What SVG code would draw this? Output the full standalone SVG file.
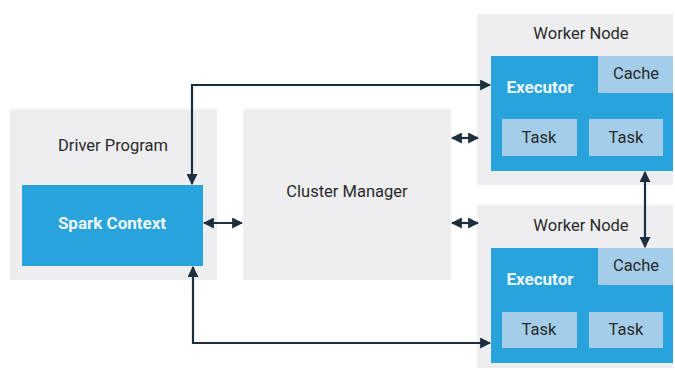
<svg xmlns="http://www.w3.org/2000/svg" width="675" height="370" viewBox="0 0 675 370">
<defs>
<marker id="ah" viewBox="0 0 10 10" refX="9" refY="5" markerWidth="11" markerHeight="11" markerUnits="userSpaceOnUse" orient="auto-start-reverse">
<path d="M0,0 L10,5 L0,10 z" fill="#1d2f3e"/>
</marker>
<style>
.bg{fill:#eeeef0}
.blue{fill:#29a3dc}
.light{fill:#a3cde9}
.t{font-family:Roboto,"Liberation Sans",sans-serif;font-size:16.5px;fill:#2a2a2a;text-anchor:middle}
.w{font-family:Roboto,"Liberation Sans",sans-serif;font-size:17px;font-weight:bold;fill:#eef6fb;text-anchor:middle}
.c{fill:none;stroke:#1d2f3e;stroke-width:2.2}
</style>
</defs>
<rect width="675" height="370" fill="#ffffff"/>
<g id="driver">
<rect class="bg" x="10" y="109" width="207" height="171"/>
<text class="t" x="113" y="151">Driver Program</text>
</g>
<g id="spark-context">
<rect class="blue" x="22" y="185" width="181" height="81"/>
<text class="w" x="112" y="229">Spark Context</text>
</g>
<g id="cluster-manager">
<rect class="bg" x="243" y="109" width="208" height="171"/>
<text class="t" x="347" y="197">Cluster Manager</text>
</g>
<g id="worker1">
<rect class="bg" x="477" y="14" width="196" height="171"/>
<text class="t" x="581" y="39">Worker Node</text>
</g>
<g id="executor1">
<rect class="blue" x="491" y="56" width="182" height="115"/>
<rect class="light" x="598" y="56" width="75" height="37"/>
<text class="w" x="540" y="93">Executor</text>
<text class="t" x="636" y="79">Cache</text>
<rect class="light" x="502" y="119" width="75" height="37"/>
<text class="t" x="539" y="143">Task</text>
<rect class="light" x="589" y="119" width="74" height="37"/>
<text class="t" x="626" y="143">Task</text>
</g>
<g id="worker2">
<rect class="bg" x="477" y="205" width="196" height="163"/>
<text class="t" x="581" y="231">Worker Node</text>
</g>
<g id="executor2">
<rect class="blue" x="491" y="248" width="182" height="115"/>
<rect class="light" x="598" y="248" width="75" height="37"/>
<text class="w" x="540" y="285">Executor</text>
<text class="t" x="636" y="271">Cache</text>
<rect class="light" x="502" y="312" width="75" height="36"/>
<text class="t" x="539" y="335">Task</text>
<rect class="light" x="589" y="312" width="74" height="36"/>
<text class="t" x="626" y="335">Task</text>
</g>
<g id="connectors">
<path class="c" d="M192,184 V85 H490" marker-start="url(#ah)" marker-end="url(#ah)"/>
<path class="c" d="M193,267 V343 H490" marker-start="url(#ah)" marker-end="url(#ah)"/>
<path class="c" d="M204,223 H242" marker-start="url(#ah)" marker-end="url(#ah)"/>
<path class="c" d="M452,138 H478" marker-start="url(#ah)" marker-end="url(#ah)"/>
<path class="c" d="M452,223 H478" marker-start="url(#ah)" marker-end="url(#ah)"/>
<path class="c" d="M645,172 V247" marker-start="url(#ah)" marker-end="url(#ah)"/>
</g>
</svg>
